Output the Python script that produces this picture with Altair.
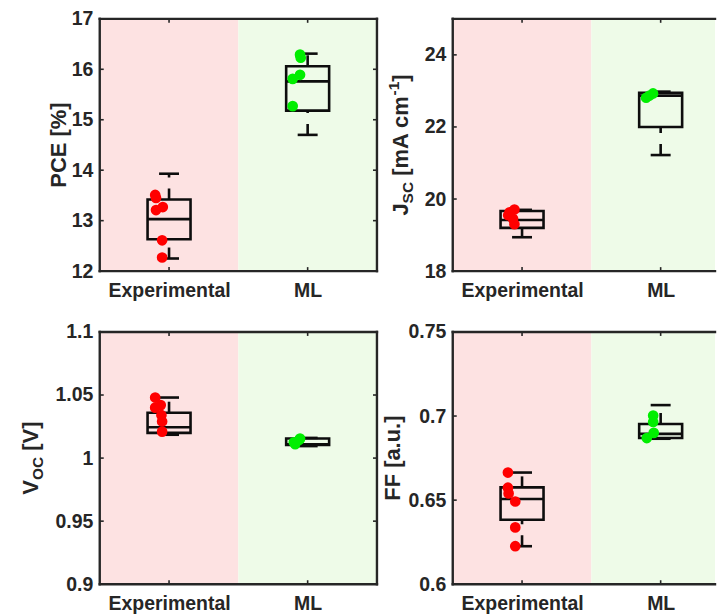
import altair as alt
import pandas as pd

# ---------------- data ----------------
CATEGORIES = ["Experimental", "ML"]
CAT_POS = [1, 2]

# box stats: [lower whisker, q1, median, q3, upper whisker]
PCE_EXP = [13.51, 13.45, 13.21, 13.27, 12.61, 12.27]
PCE_EXP_JIT = [-0.100, -0.094, -0.094, -0.045, -0.050, -0.050]
PCE_ML = [16.29, 16.23, 15.89, 15.81, 15.27]
PCE_ML_JIT = [-0.055, -0.050, -0.055, -0.108, -0.108]
PCE_BOX_EXP = [12.25, 12.63, 13.03, 13.42, 13.93]
PCE_BOX_ML = [14.70, 15.18, 15.76, 16.06, 16.31]
PCE_TICKS = [12, 13, 14, 15, 16, 17]
PCE_DOMAIN = [12, 17]

JSC_EXP = [19.71, 19.63, 19.55, 19.45, 19.30]
JSC_EXP_JIT = [-0.055, -0.090, -0.100, -0.065, -0.055]
JSC_ML = [22.93, 22.87, 22.81]
JSC_ML_JIT = [-0.055, -0.080, -0.105]
JSC_BOX_EXP = [18.94, 19.20, 19.42, 19.67, 19.70]
JSC_BOX_ML = [21.22, 22.00, 22.87, 22.95, 22.98]
JSC_TICKS = [18, 20, 22, 24]
JSC_DOMAIN = [18, 25]

VOC_EXP = [1.048, 1.042, 1.040, 1.034, 1.029, 1.021]
VOC_EXP_JIT = [-0.100, -0.060, -0.100, -0.055, -0.050, -0.050]
VOC_ML = [1.0155, 1.0145, 1.0125, 1.0110]
VOC_ML_JIT = [-0.055, -0.060, -0.100, -0.090]
VOC_BOX_EXP = [1.0185, 1.0200, 1.0245, 1.0360, 1.0480]
VOC_BOX_ML = [1.0095, 1.0105, 1.0110, 1.0155, 1.0160]
VOC_TICKS = [0.9, 0.95, 1.0, 1.05, 1.1]
VOC_DOMAIN = [0.9, 1.1]

FF_EXP = [0.6664, 0.6574, 0.6540, 0.6492, 0.6338, 0.6226]
FF_EXP_JIT = [-0.102, -0.102, -0.097, -0.049, -0.049, -0.049]
FF_ML = [0.7003, 0.6965, 0.6900, 0.6869]
FF_ML_JIT = [-0.054, -0.054, -0.050, -0.100]
FF_BOX_EXP = [0.6226, 0.6383, 0.6507, 0.6576, 0.6664]
FF_BOX_ML = [0.6865, 0.6869, 0.6894, 0.6953, 0.7065]
FF_TICKS = [0.6, 0.65, 0.7, 0.75]
FF_DOMAIN = [0.6, 0.75]

# ---------------- style ----------------
FONT = "Liberation Sans"
INK = "#262626"
BOXC = "#0d0d0d"
SHADE = ["#FDE2E2", "#EEFBE8"]
DOT = ["#FF0000", "#00EE00"]
W_FULL = 278
W_RIGHT = 263
H = 253
TL = 4
BOX_HALF = 0.155
CAP_HALF = 0.072
DASH = [11, 11]
TICK_FS = 19.5
TITLE_FS = 22
SUB_FS = 15.5
LW = 2.6

ADV = {' ': 278, '[': 333, ']': 333, '%': 889, 'P': 667, 'C': 722, 'E': 667,
       'J': 556, 'S': 667, 'm': 889, 'A': 722, 'c': 556, '-': 333, '1': 556,
       'V': 667, 'O': 778, 'F': 611, 'a': 556, '.': 278, 'u': 611}


def text_width(s, size):
    return sum(ADV.get(ch, 556) for ch in s) / 1000.0 * size


def panel(exp_vals, exp_jit, ml_vals, ml_jit, box_exp, box_ml, ticks, ydom,
          yfmt, segs, title_x, width, mirror, marker=False):
    xmax = 0.5 + width / W_FULL * 2.0
    xs = alt.Scale(domain=[0.5, xmax], nice=False, zero=False, clamp=True)
    ys = alt.Scale(domain=ydom, nice=False, zero=False)
    lab = f"datum.value == {CAT_POS[0]} ? '{CATEGORIES[0]}' : '{CATEGORIES[1]}'"
    xaxis = alt.Axis(values=CAT_POS, labelExpr=lab, title=None, grid=False,
                     domain=False, ticks=False, tickSize=0, labelPadding=10,
                     labelFont=FONT, labelFontSize=TICK_FS, labelFontWeight="bold",
                     labelColor=INK, labelFlush=False, labelOverlap=False)
    yaxis = alt.Axis(values=ticks, format=yfmt, title=None, grid=False,
                     domain=False, ticks=False, tickSize=0, labelPadding=7,
                     labelFont=FONT, labelFontSize=TICK_FS, labelFontWeight="bold",
                     labelColor=INK, labelOverlap=False, labelFlush=False)

    shade = pd.DataFrame({"cat": CATEGORIES,
                          "lo": [p - 0.5 for p in CAT_POS],
                          "hi": [p + 0.5 for p in CAT_POS]})
    stats = [box_exp, box_ml]
    box = pd.DataFrame({
        "pos": CAT_POS,
        "lo": [s[0] for s in stats], "q1": [s[1] for s in stats],
        "med": [s[2] for s in stats], "q3": [s[3] for s in stats],
        "hi": [s[4] for s in stats]})
    box["left"] = box["pos"] - BOX_HALF
    box["right"] = box["pos"] + BOX_HALF
    box["cl"] = box["pos"] - CAP_HALF
    box["cr"] = box["pos"] + CAP_HALF

    pts = pd.DataFrame({
        "v": list(exp_vals) + list(ml_vals),
        "j": list(exp_jit) + list(ml_jit),
        "cat": [CATEGORIES[0]] * len(exp_vals) + [CATEGORIES[1]] * len(ml_vals),
        "pos": [CAT_POS[0]] * len(exp_vals) + [CAT_POS[1]] * len(ml_vals)})
    pts["xp"] = pts["pos"] + pts["j"]

    tdf = pd.DataFrame({"t": ticks})
    pdf = pd.DataFrame({"p": CAT_POS})
    one = pd.DataFrame({"z": [0]})

    layers = []
    layers.append(alt.Chart(shade).mark_rect(clip=True, strokeWidth=0).encode(
        x=alt.X("lo:Q", scale=xs, axis=xaxis), x2="hi:Q",
        y=alt.value(0), y2=alt.value(H),
        color=alt.Color("cat:N", scale=alt.Scale(domain=CATEGORIES, range=SHADE), legend=None)))
    # inward ticks
    layers.append(alt.Chart(tdf).mark_rule(color=INK, strokeWidth=1.6).encode(
        y=alt.Y("t:Q", scale=ys, axis=yaxis), x=alt.value(0), x2=alt.value(TL)))
    if mirror:
        layers.append(alt.Chart(tdf).mark_rule(color=INK, strokeWidth=1.6).encode(
            y=alt.Y("t:Q", scale=ys, axis=yaxis), x=alt.value(width - TL), x2=alt.value(width)))
    layers.append(alt.Chart(pdf).mark_rule(color=INK, strokeWidth=1.6).encode(
        x=alt.X("p:Q", scale=xs, axis=xaxis), y=alt.value(0), y2=alt.value(TL)))
    layers.append(alt.Chart(pdf).mark_rule(color=INK, strokeWidth=1.6).encode(
        x=alt.X("p:Q", scale=xs, axis=xaxis), y=alt.value(H - TL), y2=alt.value(H)))
    # box
    layers.append(alt.Chart(box).mark_rect(fillOpacity=0, stroke=BOXC, strokeWidth=LW).encode(
        x=alt.X("left:Q", scale=xs, axis=xaxis), x2="right:Q",
        y=alt.Y("q1:Q", scale=ys, axis=yaxis), y2="q3:Q"))
    layers.append(alt.Chart(box).mark_rule(color=BOXC, strokeWidth=LW).encode(
        x=alt.X("left:Q", scale=xs, axis=xaxis), x2="right:Q",
        y=alt.Y("med:Q", scale=ys, axis=yaxis)))
    layers.append(alt.Chart(box).mark_rule(color=BOXC, strokeWidth=LW, strokeDash=DASH).encode(
        x=alt.X("pos:Q", scale=xs, axis=xaxis),
        y=alt.Y("q3:Q", scale=ys, axis=yaxis), y2="hi:Q"))
    layers.append(alt.Chart(box).mark_rule(color=BOXC, strokeWidth=LW, strokeDash=DASH).encode(
        x=alt.X("pos:Q", scale=xs, axis=xaxis),
        y=alt.Y("lo:Q", scale=ys, axis=yaxis), y2="q1:Q"))
    layers.append(alt.Chart(box).mark_rule(color=BOXC, strokeWidth=LW).encode(
        x=alt.X("cl:Q", scale=xs, axis=xaxis), x2="cr:Q",
        y=alt.Y("hi:Q", scale=ys, axis=yaxis)))
    layers.append(alt.Chart(box).mark_rule(color=BOXC, strokeWidth=LW).encode(
        x=alt.X("cl:Q", scale=xs, axis=xaxis), x2="cr:Q",
        y=alt.Y("lo:Q", scale=ys, axis=yaxis)))
    # points
    layers.append(alt.Chart(pts).mark_circle(size=115, opacity=1).encode(
        x=alt.X("xp:Q", scale=xs, axis=xaxis),
        y=alt.Y("v:Q", scale=ys, axis=yaxis),
        color=alt.Color("cat:N", scale=alt.Scale(domain=CATEGORIES, range=DOT), legend=None)))
    # frame
    fr = dict(color=INK, strokeWidth=2.4, strokeCap="square")
    layers.append(alt.Chart(one).mark_rule(**fr).encode(
        x=alt.value(0), x2=alt.value(width), y=alt.value(0)))
    layers.append(alt.Chart(one).mark_rule(**fr).encode(
        x=alt.value(0), x2=alt.value(width), y=alt.value(H)))
    layers.append(alt.Chart(one).mark_rule(**fr).encode(
        x=alt.value(0), y=alt.value(0), y2=alt.value(H)))
    if mirror:
        layers.append(alt.Chart(one).mark_rule(**fr).encode(
            x=alt.value(width), y=alt.value(0), y2=alt.value(H)))
    # y title built from segments (main text, subscripts, superscripts)
    total = 0.0
    for t, s, dy in segs:
        total += text_width(t, s)
    cum = -total / 2.0
    for t, s, dy in segs:
        lead = len(t) - len(t.lstrip(" "))
        shown = t.lstrip(" ")
        start = cum + text_width(" " * lead, s)
        layers.append(alt.Chart(one).mark_text(
            angle=270, align="left", baseline="alphabetic", dx=start, dy=dy,
            font=FONT, fontSize=s, fontWeight="bold", color=INK).encode(
            x=alt.value(title_x), y=alt.value(H / 2), text=alt.value(shown)))
        cum += text_width(t, s)
    if marker:
        layers.append(alt.Chart(one).mark_rule(opacity=0, strokeOpacity=0, strokeWidth=1).encode(
            x=alt.value(-91.5), y=alt.value(-9.5), y2=alt.value(0)))

    return alt.layer(*layers).resolve_scale(color="independent").properties(
        width=width, height=H)


p1 = panel(PCE_EXP, PCE_EXP_JIT, PCE_ML, PCE_ML_JIT, PCE_BOX_EXP, PCE_BOX_ML,
           PCE_TICKS, PCE_DOMAIN, "d", [("PCE [%]", TITLE_FS, 0)], -33.5,
           W_FULL, True, marker=True)
p2 = panel(JSC_EXP, JSC_EXP_JIT, JSC_ML, JSC_ML_JIT, JSC_BOX_EXP, JSC_BOX_ML,
           JSC_TICKS, JSC_DOMAIN, "d",
           [("J", TITLE_FS, 0), ("SC", SUB_FS, 5), (" [mA cm", TITLE_FS, 0),
            ("-1", SUB_FS, -9), ("]", TITLE_FS, 0)], -44.7, W_RIGHT, False)
p3 = panel(VOC_EXP, VOC_EXP_JIT, VOC_ML, VOC_ML_JIT, VOC_BOX_EXP, VOC_BOX_ML,
           VOC_TICKS, VOC_DOMAIN, "~g",
           [("V", TITLE_FS, 0), ("OC", SUB_FS, 5), (" [V]", TITLE_FS, 0)], -62,
           W_FULL, True)
p4 = panel(FF_EXP, FF_EXP_JIT, FF_ML, FF_ML_JIT, FF_BOX_EXP, FF_BOX_ML,
           FF_TICKS, FF_DOMAIN, "~g", [("FF [a.u.]", TITLE_FS, 0)], -53,
           W_RIGHT, False)

chart = alt.concat(p1, p2, p3, p4, columns=2,
                   spacing={"row": 61, "column": 76}, bounds="flush").properties(
    padding={"left": 0, "top": 0, "right": 0, "bottom": 0},
    background="white").configure_view(stroke=None)

chart.save("out.html", embed_options={"renderer": "svg", "actions": False})
